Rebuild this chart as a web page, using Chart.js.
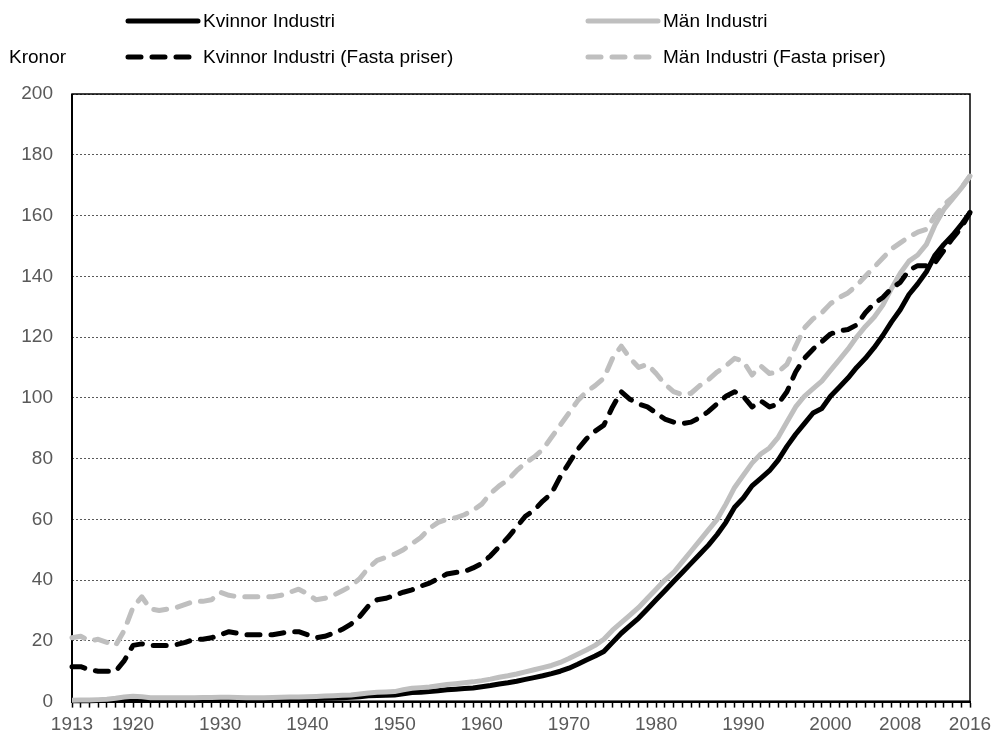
<!DOCTYPE html>
<html>
<head>
<meta charset="utf-8">
<script src="https://cdn.jsdelivr.net/npm/chart.js@4.4.1/dist/chart.umd.min.js"></script>
<style>
  html, body { margin: 0; padding: 0; background: #fff; }
  #wrap { width: 993px; height: 732px; }
</style>
</head>
<body>
<div id="wrap"><canvas id="c" width="993" height="732"></canvas></div>
<script>
// Years on the category axis
const years = [
  1913,1914,1915,1916,1917,1918,1919,1920,1921,1922,
  1923,1924,1925,1926,1927,1928,1929,1930,1931,1932,
  1933,1934,1935,1936,1937,1938,1939,1940,1941,1942,
  1943,1944,1945,1946,1947,1948,1949,1950,1951,1952,
  1953,1954,1955,1956,1957,1958,1959,1960,1961,1962,
  1963,1964,1965,1966,1967,1968,1969,1970,1971,1972,
  1973,1974,1975,1976,1977,1978,1979,1980,1981,1982,
  1983,1984,1985,1986,1987,1988,1989,1990,1991,1992,
  1993,1994,1995,1996,1997,1998,1999,2000,2001,2002,
  2003,2004,2005,2006,2007,2008,2009,2010,2011,2012,
  2013,2014,2015,2016
];

// Years that get a printed label under the axis
const labelledYears = [1913,1920,1930,1940,1950,1960,1970,1980,1990,2000,2008,2016];

// Hourly wage, women in industry (current prices, kronor)
const kvinnor = [
  0.25,0.25,0.3,0.35,0.45,0.65,0.95,1.1,1.0,0.8,
  0.75,0.75,0.75,0.75,0.75,0.8,0.8,0.8,0.8,0.8,
  0.78,0.78,0.78,0.8,0.82,0.88,0.92,0.98,1.05,1.1,
  1.2,1.3,1.4,1.6,1.9,2.0,2.1,2.2,2.6,3.0,
  3.1,3.3,3.6,3.9,4.1,4.3,4.5,4.9,5.3,5.8,
  6.2,6.7,7.3,7.9,8.5,9.2,10.0,11.0,12.3,13.7,
  15.0,16.5,19.5,22.5,25.0,27.5,30.5,33.5,36.5,39.5,
  42.5,45.5,48.5,51.5,55.0,59.0,64.0,67.0,71.0,73.5,
  76.0,79.5,84.0,88.0,91.5,95.0,96.5,100.5,103.5,106.5,
  110.0,113.0,116.5,120.5,125.0,129.0,134.0,137.5,141.5,147.0,
  150.5,153.5,157.0,161.0
];

// Hourly wage, men in industry (current prices, kronor)
const man = [
  0.45,0.5,0.55,0.65,0.8,1.1,1.5,1.75,1.6,1.3,
  1.25,1.25,1.3,1.3,1.3,1.35,1.35,1.4,1.4,1.35,
  1.3,1.3,1.3,1.35,1.4,1.5,1.55,1.6,1.7,1.85,
  1.95,2.05,2.2,2.5,2.85,3.05,3.15,3.3,3.9,4.4,
  4.6,4.8,5.2,5.6,5.9,6.2,6.5,6.9,7.4,8.0,
  8.5,9.1,9.8,10.5,11.2,11.9,12.9,14.2,15.6,17.0,
  18.5,20.5,23.5,26.0,28.5,31.0,34.0,37.0,40.0,42.5,
  46.0,49.5,53.0,56.5,60.0,65.0,70.5,74.5,78.5,81.5,
  83.5,87.0,92.0,97.0,100.5,103.0,105.5,109.0,112.5,116.0,
  120.0,123.5,126.5,130.5,136.0,141.0,145.0,147.0,150.5,157.0,
  162.0,165.5,169.0,173.0
];

// Hourly wage, women in industry (fixed prices)
const kvinnorFasta = [
  11.5,11.5,10.5,10.0,10.0,10.0,13.5,18.5,19.0,18.4,
  18.5,18.5,18.8,19.5,20.5,20.5,21.0,22.0,23.0,22.5,
  22.0,22.0,22.0,22.0,22.5,23.0,23.0,22.0,21.0,21.5,
  22.5,23.8,25.5,28.0,31.5,33.5,34.0,35.0,36.0,36.8,
  38.0,39.0,40.5,42.0,42.5,42.8,44.0,45.5,48.0,51.0,
  54.0,57.5,61.0,63.0,66.0,68.5,74.0,78.5,83.0,86.5,
  89.0,91.0,97.0,102.0,99.5,98.0,97.0,95.0,93.0,92.0,
  91.5,92.0,93.5,95.5,98.0,100.5,102.0,100.5,97.0,99.0,
  97.0,98.0,102.0,108.5,113.0,116.0,118.5,121.0,122.0,122.5,
  124.0,128.0,131.0,133.0,136.0,138.0,142.0,143.5,143.5,144.5,
  148.5,152.5,156.0,161.0
];

// Hourly wage, men in industry (fixed prices)
const manFasta = [
  21.0,21.5,20.0,20.5,19.5,18.5,23.5,31.0,34.5,30.5,
  30.0,30.5,31.0,32.0,33.0,33.0,33.5,36.0,35.0,34.5,
  34.5,34.5,34.5,34.5,35.0,36.0,37.0,35.5,33.5,34.0,
  35.0,36.5,38.0,40.5,44.0,46.5,47.5,48.5,50.0,52.0,
  54.0,57.0,59.0,60.0,60.5,61.5,63.0,65.0,68.5,71.0,
  73.0,76.0,78.5,80.5,83.0,87.0,91.0,95.0,99.0,102.0,
  104.0,106.5,113.0,117.0,113.0,110.0,111.0,108.0,104.5,102.0,
  101.0,101.5,104.0,106.0,108.5,110.5,113.0,112.0,107.5,110.5,
  108.0,108.5,111.0,117.0,123.0,126.0,128.0,131.0,133.0,134.5,
  137.0,140.0,143.0,146.0,149.0,151.0,153.0,154.5,155.5,160.0,
  163.5,166.0,169.0,173.0
];

const seriesNames = [
  'Kvinnor Industri',
  'Män Industri',
  'Kvinnor Industri (Fasta priser)',
  'Män Industri (Fasta priser)'
];
const yTitle = 'Kronor';

const FONT = "'Liberation Sans', Arial, Helvetica, sans-serif";
const BLACK = '#000000';
const GREY = '#BFBFBF';
const DASH = [13, 11];

// Plot frame: thin box round the plot area, heavier left and bottom axis lines
const framePlugin = {
  id: 'frame',
  beforeDatasetsDraw(chart) {
    const a = chart.chartArea;
    const ctx = chart.ctx;
    ctx.save();
    ctx.strokeStyle = '#000';
    ctx.lineWidth = 1.5;
    ctx.strokeRect(a.left, a.top, a.right - a.left, a.bottom - a.top);
    ctx.lineWidth = 2;
    ctx.beginPath();
    ctx.moveTo(a.left, a.top);
    ctx.lineTo(a.left, a.bottom);
    ctx.lineTo(a.right, a.bottom);
    ctx.stroke();
    ctx.restore();
  }
};

// Two-column legend above the plot, plus the unit label
const legendPlugin = {
  id: 'twoColLegend',
  afterDraw(chart) {
    const ctx = chart.ctx;
    const slots = [
      { x1: 128, x2: 198, tx: 203, y: 21 },
      { x1: 588, x2: 658, tx: 663, y: 21 },
      { x1: 128, x2: 198, tx: 203, y: 57 },
      { x1: 588, x2: 658, tx: 663, y: 57 }
    ];
    ctx.save();
    chart.data.datasets.forEach((ds, i) => {
      const s = slots[i];
      ctx.beginPath();
      ctx.strokeStyle = ds.borderColor;
      ctx.lineWidth = ds.borderWidth;
      ctx.lineCap = 'round';
      ctx.setLineDash(ds.borderDash || []);
      ctx.moveTo(s.x1, s.y);
      ctx.lineTo(s.x2, s.y);
      ctx.stroke();
      ctx.setLineDash([]);
      ctx.fillStyle = '#000';
      ctx.font = '19px ' + FONT;
      ctx.textBaseline = 'middle';
      ctx.textAlign = 'left';
      ctx.fillText(ds.label, s.tx, s.y + 1);
    });
    ctx.fillStyle = '#000';
    ctx.font = '19px ' + FONT;
    ctx.textBaseline = 'middle';
    ctx.textAlign = 'left';
    ctx.fillText(yTitle, 9, 58);
    ctx.restore();
  }
};

const lineBase = {
  pointRadius: 0,
  pointHoverRadius: 0,
  tension: 0,
  fill: false,
  clip: false,
  borderWidth: 5,
  borderJoinStyle: 'round'
};

new Chart(document.getElementById('c'), {
  type: 'line',
  data: {
    labels: years,
    datasets: [
      Object.assign({}, lineBase, { label: seriesNames[0], data: kvinnor, borderColor: BLACK, order: 4 }),
      Object.assign({}, lineBase, { label: seriesNames[1], data: man, borderColor: GREY, order: 3 }),
      Object.assign({}, lineBase, { label: seriesNames[2], data: kvinnorFasta, borderColor: BLACK, borderDash: DASH, borderCapStyle: 'round', order: 2 }),
      Object.assign({}, lineBase, { label: seriesNames[3], data: manFasta, borderColor: GREY, borderDash: DASH, borderCapStyle: 'round', order: 1 })
    ]
  },
  options: {
    responsive: false,
    animation: false,
    devicePixelRatio: 1,
    layout: { autoPadding: false, padding: { top: 94, right: 23, left: 0, bottom: 0 } },
    plugins: {
      legend: { display: false },
      tooltip: { enabled: false }
    },
    scales: {
      x: {
        type: 'category',
        offset: false,
        grid: {
          display: true,
          drawOnChartArea: false,
          drawTicks: true,
          tickLength: 6,
          tickColor: '#000',
          tickWidth: 1.5
        },
        border: { display: true, color: '#000', width: 2 },
        ticks: {
          autoSkip: false,
          maxRotation: 0,
          minRotation: 0,
          padding: 6,
          color: '#595959',
          font: { family: FONT, size: 19 },
          callback: function (value) {
            const lab = this.getLabelForValue(value);
            return labelledYears.includes(Number(lab)) ? String(lab) : '';
          }
        },
        afterFit(scale) {
          scale.height = 30;
          // end labels may overhang the plot edges; keep the plot width fixed
          scale.paddingLeft = 0;
          scale.paddingRight = 0;
        }
      },
      y: {
        min: 0,
        max: 200,
        ticks: {
          stepSize: 20,
          padding: 19,
          color: '#595959',
          font: { family: FONT, size: 19 }
        },
        grid: { color: '#595959', lineWidth: 1, drawTicks: false },
        border: { display: false, dash: [2, 2] },
        afterFit(scale) { scale.width = 72; }
      }
    }
  },
  plugins: [framePlugin, legendPlugin]
});
</script>
</body>
</html>
